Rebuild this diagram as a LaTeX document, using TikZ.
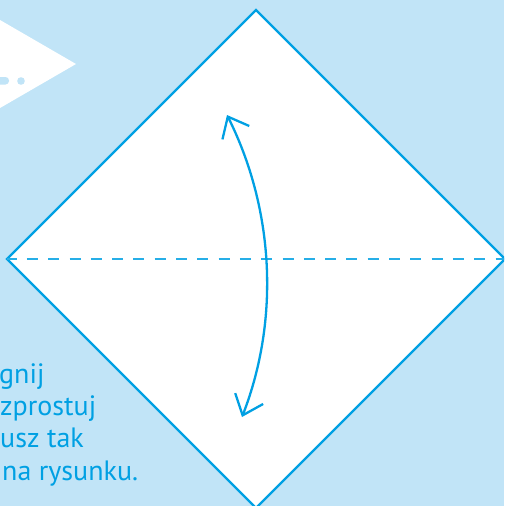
\documentclass[tikz,border=0pt]{standalone}
\usepackage{fontspec}
\setmainfont{PT Sans}
\usetikzlibrary{arrows.meta}
\definecolor{paper}{RGB}{193,228,247}
\definecolor{ink}{RGB}{0,160,227}
\tikzset{
  fold/.style={draw=ink,line width=2.4pt,line join=miter},
  valley/.style={draw=ink!85,line width=1.4pt,dash pattern=on 11pt off 10.3pt,dash phase=1.4pt},
  turn/.style={draw=ink,line width=2.3pt,
    {Straight Barb[length=18pt,width=30pt]}-{Straight Barb[length=18pt,width=30pt]}},
  hint/.style={font=\fontsize{28}{32}\selectfont,text=ink,anchor=base west,inner sep=0pt}
}
\begin{document}
\begin{tikzpicture}[x=1pt,y=-1pt]
  \clip (0,0) rectangle (504,506);
  \fill[paper] (0,0) rectangle (504,506);
  % tab at the left edge
  \fill[white] (0,20) -- (76,64) -- (0,108) -- cycle;
  \fill[paper,rounded corners=3.5pt] (-5,77) rectangle (9,84.5);
  \fill[paper] (21,81) circle (3.8);
  % the sheet, turned on its corner
  \coordinate (n) at (256,10);
  \coordinate (e) at (505,259);
  \coordinate (s) at (256,508);
  \coordinate (w) at (7,259);
  \filldraw[fill=white,fold] (n) -- (e) -- (s) -- (w) -- cycle;
  \draw[valley] (w) -- (e);
  \coordinate (up) at (227,115);
  \coordinate (down) at (242,417);
  \draw[turn] (up) .. controls (274,209) and (280,319) .. (down);
  % text cut by the left edge
  \node[hint] (l1) at (-1,383) {gnij};
  \node[hint] (l2) at (0,415) {zprostuj};
  \node[hint] (l3) at (0,447.5) {usz tak};
  \node[hint] (l4) at (2,480) {na rysunku.};
\end{tikzpicture}
\end{document}
